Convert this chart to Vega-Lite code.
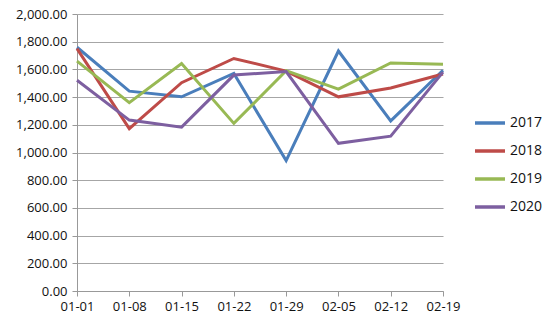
{
  "$schema": "https://vega.github.io/schema/vega-lite/v6.json",
  "width": 373,
  "height": 277,
  "autosize": {"type": "none"},
  "padding": {"left": 77, "top": 14, "right": 100, "bottom": 35},
  "background": "white",
  "config": {
    "view": {"stroke": null},
    "font": "Open Sans",
    "axis": {"labelFont": "Open Sans", "labelFontSize": 12.5, "labelColor": "#111", "domainColor": "#999", "tickColor": "#999", "gridColor": "#a6a6a6", "gridWidth": 1.2}
  },
  "data": {"values": [
    {"date": "01-01", "year": "2017", "v": 1760}, {"date": "01-08", "year": "2017", "v": 1443}, {"date": "01-15", "year": "2017", "v": 1402}, {"date": "01-22", "year": "2017", "v": 1571}, {"date": "01-29", "year": "2017", "v": 942}, {"date": "02-05", "year": "2017", "v": 1733}, {"date": "02-12", "year": "2017", "v": 1228}, {"date": "02-19", "year": "2017", "v": 1594},
    {"date": "01-01", "year": "2018", "v": 1750}, {"date": "01-08", "year": "2018", "v": 1172}, {"date": "01-15", "year": "2018", "v": 1504}, {"date": "01-22", "year": "2018", "v": 1679}, {"date": "01-29", "year": "2018", "v": 1588}, {"date": "02-05", "year": "2018", "v": 1402}, {"date": "02-12", "year": "2018", "v": 1466}, {"date": "02-19", "year": "2018", "v": 1567},
    {"date": "01-01", "year": "2019", "v": 1660}, {"date": "01-08", "year": "2019", "v": 1360}, {"date": "01-15", "year": "2019", "v": 1642}, {"date": "01-22", "year": "2019", "v": 1210}, {"date": "01-29", "year": "2019", "v": 1591}, {"date": "02-05", "year": "2019", "v": 1458}, {"date": "02-12", "year": "2019", "v": 1647}, {"date": "02-19", "year": "2019", "v": 1638},
    {"date": "01-01", "year": "2020", "v": 1522}, {"date": "01-08", "year": "2020", "v": 1234}, {"date": "01-15", "year": "2020", "v": 1183}, {"date": "01-22", "year": "2020", "v": 1559}, {"date": "01-29", "year": "2020", "v": 1584}, {"date": "02-05", "year": "2020", "v": 1066}, {"date": "02-12", "year": "2020", "v": 1118}, {"date": "02-19", "year": "2020", "v": 1580}
  ]},
  "mark": {"type": "line", "strokeWidth": 3},
  "encoding": {
    "x": {"field": "date", "type": "ordinal", "title": null,
      "scale": {"type": "point", "padding": 0, "range": [0, 366]},
      "axis": {"labelAngle": 0, "grid": false, "tickSize": 5, "labelPadding": 4, "labelFontSize": 13}},
    "y": {"field": "v", "type": "quantitative", "title": null,
      "scale": {"domain": [0, 2000], "nice": false},
      "axis": {"values": [0,200,400,600,800,1000,1200,1400,1600,1800,2000], "format": ",.2f", "tickSize": 5, "labelPadding": 5, "labelFontSize": 13}},
    "color": {"field": "year", "type": "nominal", "title": null,
      "scale": {"domain": ["2017","2018","2019","2020"], "range": ["#4a7ebb","#be4b48","#98b954","#7d5fa0"]},
      "legend": {"orient": "none", "legendX": 396, "legendY": 92, "symbolType": "stroke", "symbolSize": 900, "symbolStrokeWidth": 3.5, "labelFontSize": 14, "labelColor": "#111", "rowPadding": 4, "labelOffset": 3}}
  }
}
